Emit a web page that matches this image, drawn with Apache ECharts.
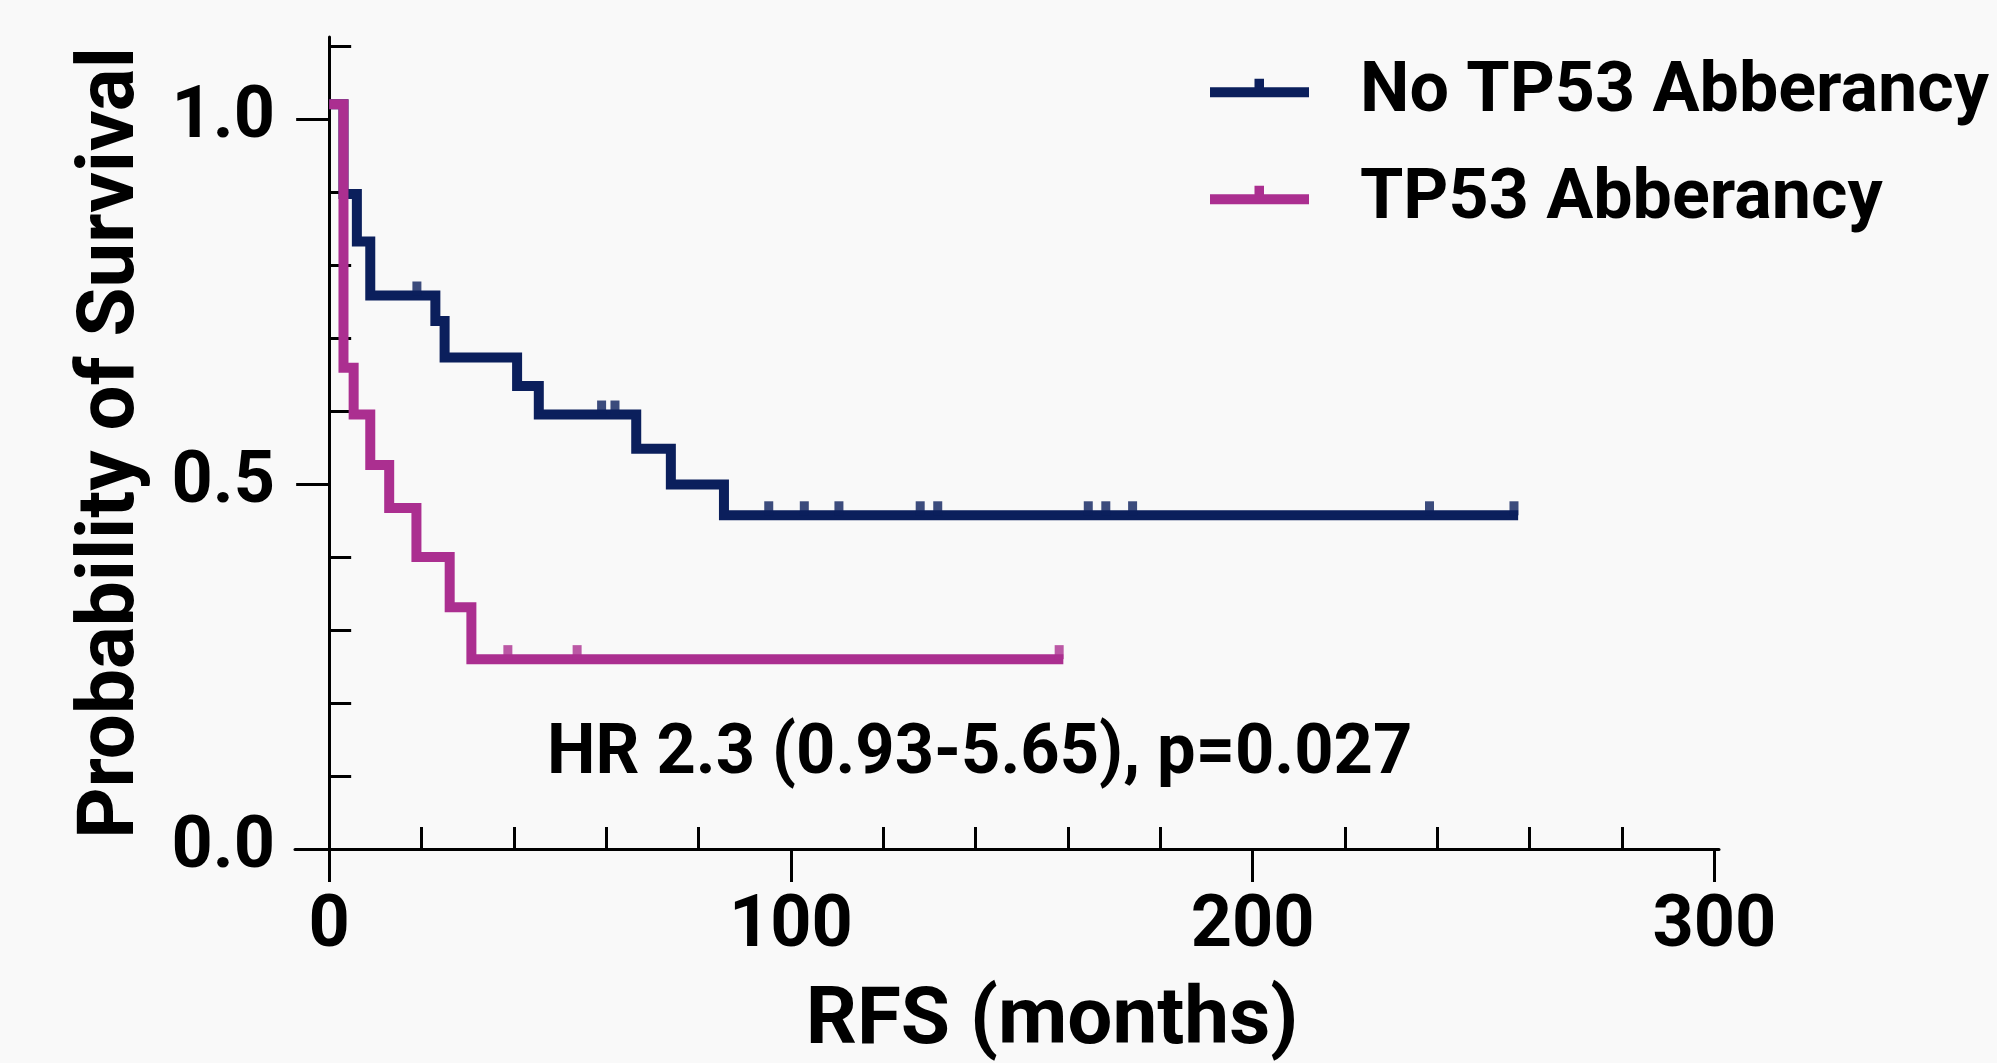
<!DOCTYPE html>
<html>
<head>
<meta charset="utf-8">
<script src="https://cdn.jsdelivr.net/npm/echarts@6/dist/echarts.min.js"></script>
<style>
html, body { margin: 0; padding: 0; background: #f9f9f9; }
#chart { width: 1997px; height: 1063px; }
</style>
</head>
<body>
<div id="chart"></div>
<script>
// step points of the KM curves (months, survival)
const noTp53Times = [0, 3.1, 6.0, 8.9, 23.0, 25.0, 40.7, 45.4, 66.5, 74.0, 85.5, 257.5];
const noTp53Surv = [1.02, 0.897, 0.832, 0.758, 0.723, 0.673, 0.634, 0.595, 0.548, 0.499, 0.457, 0.457];
const noTp53Censored = [19.0, 59.0, 61.9, 95.2, 102.9, 110.4, 128.0, 131.8, 164.4, 168.2, 174.0, 238.3, 256.6];

const tp53Times = [0, 3.1, 5.3, 8.9, 13.0, 18.9, 26.1, 30.8, 159.0];
const tp53Surv = [1.02, 0.659, 0.595, 0.526, 0.467, 0.400, 0.331, 0.260, 0.260];
const tp53Censored = [38.7, 53.7, 158.1];

// axis ticks
const xMajorTicks = [0, 100, 200, 300];
const xMinorTicks = [20, 40, 60, 80, 120, 140, 160, 180, 220, 240, 260, 280];
const yMajorTicks = [0, 0.5, 1.0];
const yMinorTicks = [0.1, 0.2, 0.3, 0.4, 0.6, 0.7, 0.8, 0.9, 1.1];

const seriesNames = ['No TP53 Abberancy', 'TP53 Abberancy'];
const hrText = 'HR 2.3 (0.93-5.65), p=0.027';

const NAVY = '#0b1f5c';
const MAGENTA = '#ab2f90';
const FONT = 'Roboto';

function zip(xs, ys) {
  return xs.map((x, i) => [x, ys[i]]);
}
// survival level of a step curve at time t
function levelAt(times, surv, t) {
  let v = surv[0];
  for (let i = 0; i < times.length; i++) {
    if (times[i] <= t) v = surv[i];
  }
  return v;
}

const chart = echarts.init(document.getElementById('chart'));

function kmLine(name, color, times, surv) {
  return {
    name: name,
    type: 'line',
    step: 'end',
    showSymbol: false,
    symbol: 'none',
    xAxisIndex: 0,
    yAxisIndex: 0,
    lineStyle: { color: color, width: 10, join: 'miter', cap: 'butt' },
    itemStyle: { color: color },
    data: zip(times, surv),
    z: 3
  };
}
function censorMarks(name, color, times, surv, censored) {
  return {
    name: name,
    type: 'scatter',
    xAxisIndex: 0,
    yAxisIndex: 0,
    symbol: 'rect',
    symbolSize: [9, 14],
    symbolOffset: [0, -7],
    itemStyle: { color: color },
    data: censored.map(t => [t, levelAt(times, surv, t)]),
    z: 4
  };
}

const option = {
  backgroundColor: '#f9f9f9',
  animation: false,
  textStyle: { fontFamily: FONT },
  grid: {
    left: 295,
    right: 278,
    top: 37,
    bottom: 214,
    containLabel: false,
    outerBoundsMode: 'none'
  },
  legend: {
    orient: 'vertical',
    left: 1210,
    top: 58,
    padding: 0,
    itemGap: 37,
    itemWidth: 99,
    itemHeight: 28.4,
    // line with a censor tick; the last point only pads the box so the text sits a bit lower
    icon: 'path://M0,8.4H99V18.4H0Z M44.5,0H54V8.4H44.5Z M0,28.4L0.001,28.4Z',
    data: seriesNames,
    textStyle: {
      fontFamily: FONT,
      fontSize: 70,
      fontWeight: 'bold',
      color: '#000',
      padding: [0, 0, 0, 46]
    }
  },
  xAxis: [
    {
      type: 'value',
      min: -7.4,
      max: 301,
      name: 'RFS (months)',
      nameLocation: 'middle',
      nameGap: 134,
      nameTextStyle: {
        fontFamily: FONT,
        fontSize: 80,
        fontWeight: 'bold',
        color: '#000',
        padding: [0, 0, 0, 90]
      },
      axisLine: { show: true, onZero: true, lineStyle: { color: '#000', width: 3 } },
      axisTick: { show: true, length: 33, customValues: xMajorTicks, lineStyle: { color: '#000', width: 3 } },
      axisLabel: {
        customValues: xMajorTicks,
        margin: 43,
        fontFamily: FONT,
        fontSize: 72,
        fontWeight: 'bold',
        color: '#000'
      },
      splitLine: { show: false }
    },
    {
      type: 'value',
      min: -7.4,
      max: 301,
      axisLine: { show: false },
      axisTick: { show: true, length: 22, customValues: xMinorTicks, lineStyle: { color: '#000', width: 3 } },
      axisLabel: { show: false },
      splitLine: { show: false }
    }
  ],
  yAxis: [
    {
      type: 'value',
      min: 0,
      max: 1.112,
      name: 'Probability of Survival',
      nameLocation: 'middle',
      nameGap: 142,
      nameTextStyle: {
        fontFamily: FONT,
        fontSize: 80,
        fontWeight: 'bold',
        color: '#000'
      },
      axisLine: { show: true, onZero: true, lineStyle: { color: '#000', width: 3 } },
      axisTick: { show: true, length: 33, customValues: yMajorTicks, lineStyle: { color: '#000', width: 3 } },
      axisLabel: {
        customValues: yMajorTicks,
        margin: 20,
        formatter: v => v.toFixed(1),
        fontFamily: FONT,
        fontSize: 72,
        fontWeight: 'bold',
        color: '#000'
      },
      splitLine: { show: false }
    },
    {
      type: 'value',
      min: 0,
      max: 1.112,
      axisLine: { show: false, onZero: true },
      axisTick: { show: true, length: 22, customValues: yMinorTicks, lineStyle: { color: '#000', width: 3 } },
      axisLabel: { show: false },
      splitLine: { show: false }
    }
  ],
  graphic: [
    {
      type: 'text',
      left: 547,
      top: 720,
      scaleX: 0.98,
      style: {
        text: hrText,
        fontFamily: FONT,
        fontSize: 70,
        fontWeight: 'bold',
        fill: '#000'
      }
    }
  ],
  series: [
    kmLine(seriesNames[0], NAVY, noTp53Times, noTp53Surv),
    kmLine(seriesNames[1], MAGENTA, tp53Times, tp53Surv),
    censorMarks(seriesNames[0], NAVY, noTp53Times, noTp53Surv, noTp53Censored),
    censorMarks(seriesNames[1], MAGENTA, tp53Times, tp53Surv, tp53Censored)
  ]
};

chart.setOption(option);
</script>
</body>
</html>
